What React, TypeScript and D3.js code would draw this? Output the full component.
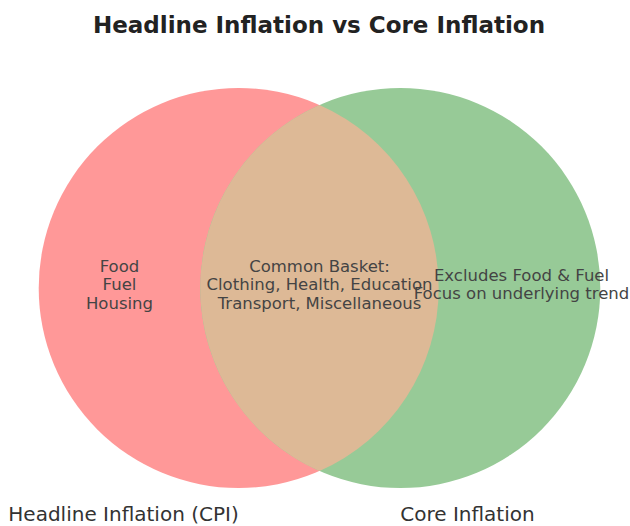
import { scaleLinear } from "d3";

// set names and region sizes (venn2 style: left only, right only, both)
const setNames = ["Headline Inflation (CPI)", "Core Inflation"];
const subsets = [1, 1, 1];
const regionLabels = [
    ["Food", "Fuel", "Housing"],
    ["Excludes Food & Fuel", "Focus on underlying trend"],
    ["Common Basket:", "Clothing, Health, Education", "Transport, Miscellaneous"],
];
const title = "Headline Inflation vs Core Inflation";

const W = 630;
const H = 526;
const FONT = "'DejaVu Sans', sans-serif";

// area of overlap of two circles of radius r at distance d
function lensArea(r: number, d: number) {
    if (d >= 2 * r) return 0;
    return 2 * r * r * Math.acos(d / (2 * r)) - (d / 2) * Math.sqrt(4 * r * r - d * d);
}

function App() {
    const setA = subsets[0] + subsets[2];
    const setB = subsets[1] + subsets[2];
    // radius from area (equal here), distance found by bisection so overlap matches
    const rA = Math.sqrt(setA / Math.PI);
    const rB = Math.sqrt(setB / Math.PI);
    let lo = 0;
    let hi = rA + rB;
    for (let i = 0; i < 60; i++) {
        const mid = (lo + hi) / 2;
        if (lensArea(rA, mid) > subsets[2]) lo = mid;
        else hi = mid;
    }
    const d = (lo + hi) / 2;

    // data units -> pixels
    const px = scaleLinear().domain([0, rA]).range([0, 200]);
    const cx = scaleLinear().domain([-d / 2, d / 2]).range([319.5 - px(d / 2), 319.5 + px(d / 2)]);
    const cy = 288;
    const R = px(rA);
    const xa = cx(-d / 2);
    const xb = cx(d / 2);
    const half = Math.sqrt(R * R - ((xb - xa) / 2) ** 2);
    const mx = (xa + xb) / 2;
    const lens = `M${mx},${cy - half} A${R},${R} 0 0 1 ${mx},${cy + half} A${R},${R} 0 0 1 ${mx},${cy - half} Z`;

    const labelX = [
        (xa - R + (xb - R)) / 2,
        (xa + R + (xb + R)) / 2 + 2,
        ((xb - R) + (xa + R)) / 2,
    ];
    const lh = 18.5;

    return (
        <svg width={W} height={H} style={{ position: "absolute", left: 0, top: 0 }}>
            <rect width={W} height={H} fill="#fff" />
            <text x={319} y={33} textAnchor="middle" fontFamily={FONT} fontWeight="bold" fontSize={23} fill="#222">
                {title}
            </text>
            <circle cx={xa} cy={cy} r={R} fill="#ff9898" />
            <circle cx={xb} cy={cy} r={R} fill="#97ca97" />
            <path d={lens} fill="#ddb996" />
            {regionLabels.map((lines, i) => (
                <text
                    key={i}
                    x={labelX[i]}
                    y={cy - ((lines.length - 1) * lh) / 2 - 3}
                    textAnchor="middle"
                    dominantBaseline="middle"
                    fontFamily={FONT}
                    fontSize={16.5}
                    fill="#444"
                >
                    {lines.map((t, j) => (
                        <tspan key={j} x={labelX[i]} dy={j === 0 ? 0 : lh} dominantBaseline="middle">
                            {t}
                        </tspan>
                    ))}
                </text>
            ))}
            <text x={xa} y={521} textAnchor="end" fontFamily={FONT} fontSize={20} fill="#333">
                {setNames[0]}
            </text>
            <text x={xb} y={521} textAnchor="start" fontFamily={FONT} fontSize={20} fill="#333">
                {setNames[1]}
            </text>
        </svg>
    );
}

export default App;
